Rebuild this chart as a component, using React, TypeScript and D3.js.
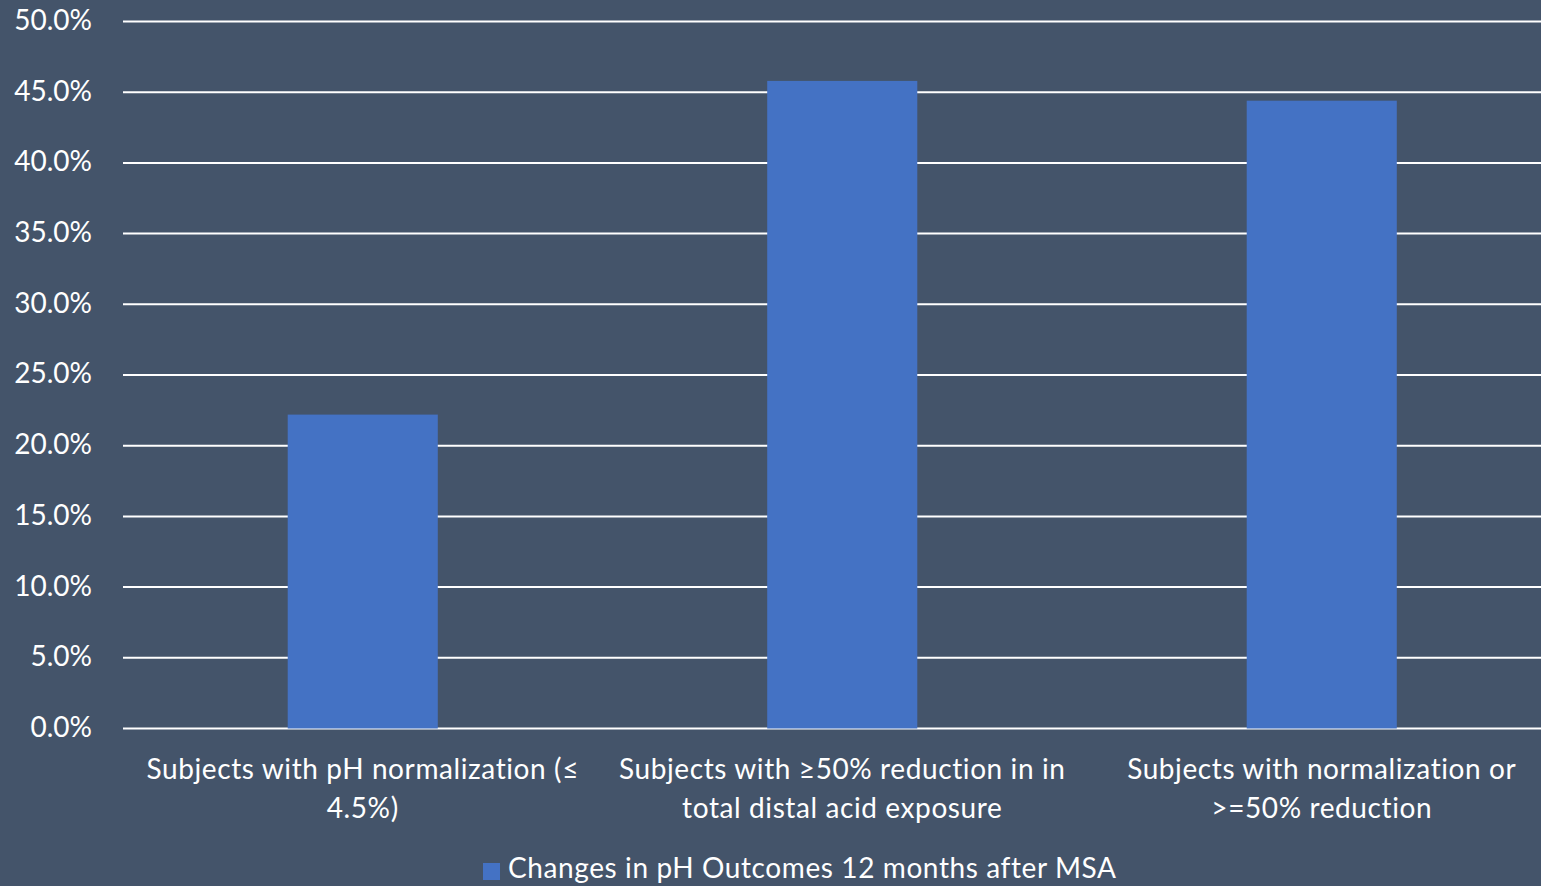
import React from "react";
import * as d3 from "d3";

const categories: string[][] = [
  ["Subjects with pH normalization (≤", "4.5%)"],
  ["Subjects with ≥50% reduction in in", "total distal acid exposure"],
  ["Subjects with normalization or", ">=50% reduction"],
];
const values: number[] = [0.222, 0.458, 0.444];
const yTicks: number[] = [0, 0.05, 0.1, 0.15, 0.2, 0.25, 0.3, 0.35, 0.4, 0.45, 0.5];
const seriesName = "Changes in pH Outcomes 12 months after MSA";

const W = 1541;
const H = 886;
const BG = "#44546A";
const BAR = "#4472C4";
const TXT = "#FFFFFF";
const FONT = "Lato, 'Open Sans', sans-serif";

export default function App() {
  const plotLeft = 123;
  const step = 479.5;
  const x = d3
    .scaleBand<number>()
    .domain(categories.map((_, i) => i))
    .range([plotLeft, plotLeft + step * 3])
    .paddingInner(0.687)
    .paddingOuter(0.3435);
  const y = d3.scaleLinear().domain([0, 0.5]).range([728.5, 21.5]);
  const fmt = d3.format(".1%");

  return (
    <div style={{ position: "fixed", left: 0, top: 0, width: W, height: H, background: BG }}>
      <svg width={W} height={H} style={{ display: "block" }} fontFamily={FONT}>
        <rect x={0} y={0} width={W} height={H} fill={BG} />
        {yTicks.map((t) => (
          <g key={t}>
            <line x1={plotLeft} x2={W} y1={y(t)} y2={y(t)} stroke="#FFFFFF" strokeWidth={2} />
            <text x={92} y={y(t)} dy="0.3em" textAnchor="end" fill={TXT} fontSize={28}>
              {fmt(t)}
            </text>
          </g>
        ))}
        {values.map((v, i) => (
          <rect
            key={i}
            x={x(i)!}
            y={y(v)}
            width={x.bandwidth()}
            height={y(0) - y(v)}
            fill={BAR}
          />
        ))}
        {categories.map((lines, i) => (
          <text
            key={i}
            x={x(i)! + x.bandwidth() / 2}
            y={779}
            textAnchor="middle"
            fill={TXT}
            fontSize={28}
            letterSpacing={0.6}
          >
            {lines.map((l, j) => (
              <tspan key={j} x={x(i)! + x.bandwidth() / 2} dy={j === 0 ? 0 : 38.5}>
                {l}
              </tspan>
            ))}
          </text>
        ))}
        <g>
          <rect x={483} y={863} width={17} height={17} fill={BAR} />
          <text x={508} y={878} fill={TXT} fontSize={28} letterSpacing={0.6}>
            {seriesName}
          </text>
        </g>
      </svg>
    </div>
  );
}
